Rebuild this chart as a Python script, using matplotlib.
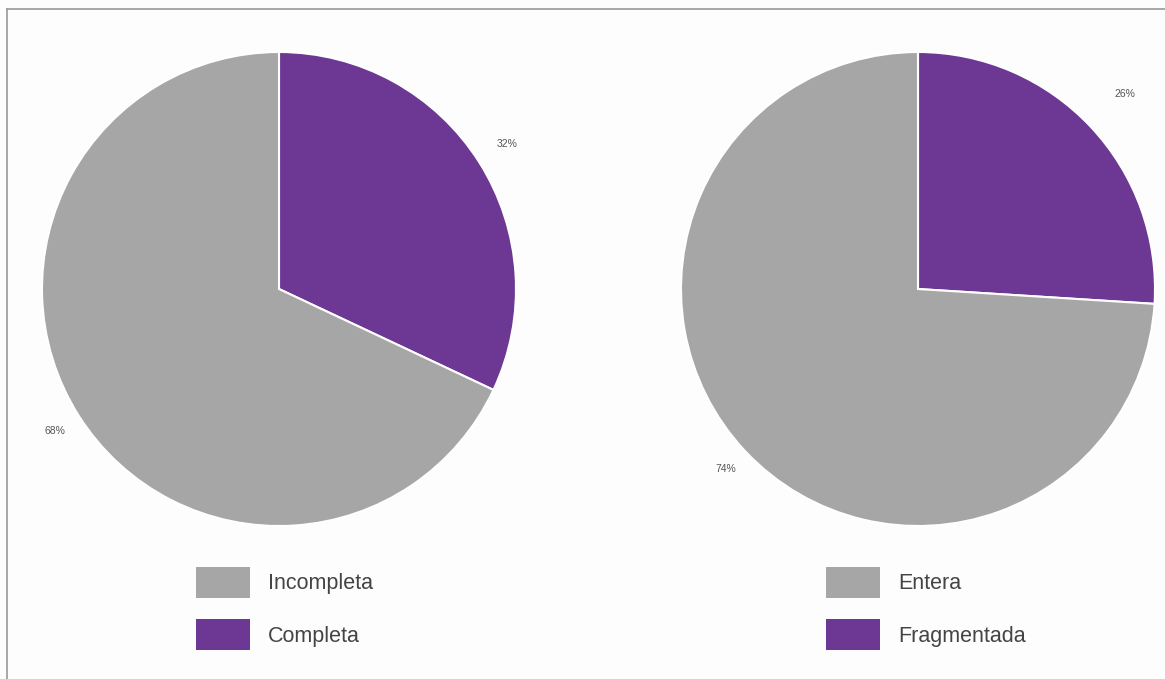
import matplotlib.pyplot as plt
from matplotlib.lines import Line2D

# two pie charts: state of the piece
left_labels = ['Incompleta', 'Completa']
left_values = [68, 32]
right_labels = ['Entera', 'Fragmentada']
right_values = [74, 26]

colors = ['#a6a6a6', '#6d3894']
text_color = '#444444'
font = ['Liberation Sans Narrow', 'Liberation Sans', 'DejaVu Sans']

W, H = 1165, 679
fig = plt.figure(figsize=(W / 100, H / 100), dpi=100, facecolor='#fdfdfd')


def px_axes(x0, y0, w, h):
    # axes placed by pixel box (top-left origin)
    return fig.add_axes([x0 / W, 1 - (y0 + h) / H, w / W, h / H])


def draw_pie(ax, values, labels, legend_xy, pct_dist):
    wedges, _, autotexts = ax.pie(
        [values[1], values[0]], startangle=90, counterclock=False,
        colors=[colors[1], colors[0]], radius=1,
        wedgeprops=dict(edgecolor='white', linewidth=1.5),
        autopct='%d%%', pctdistance=1.0,
        textprops=dict(fontsize=7.5, color='#555555', family=font))
    # push each percentage out by its own distance
    for t, d in zip(autotexts, pct_dist):
        x, y = t.get_position()
        t.set_position((x * d, y * d))
    ax.set_xlim(-1, 1)
    ax.set_ylim(-1, 1)
    ax.set_aspect('equal')
    ax.axis('off')
    leg = ax.legend([wedges[1], wedges[0]], labels, loc='upper left',
                    bbox_to_anchor=(legend_xy[0] / W, 1 - legend_xy[1] / H),
                    bbox_transform=fig.transFigure, frameon=False,
                    handlelength=2.5, handleheight=1.84, handletextpad=0.84,
                    labelspacing=0.98, borderpad=0, borderaxespad=0,
                    prop=dict(family=font, size=15.5))
    for t in leg.get_texts():
        t.set_color(text_color)
    for h in leg.legend_handles:
        h.set_edgecolor('none')
    return autotexts


ax1 = px_axes(42, 52, 474, 474)
draw_pie(ax1, left_values, left_labels, (196, 567), [1.14, 1.12])

ax2 = px_axes(681, 52, 474, 474)
draw_pie(ax2, right_values, right_labels, (826, 567), [1.2, 1.11])

# thin frame on the left and top edges
fig.add_artist(Line2D([7 / W, 7 / W], [0, 1 - 9 / H], color='#999999', lw=1.2))
fig.add_artist(Line2D([7 / W, 1], [1 - 9 / H, 1 - 9 / H], color='#999999', lw=1.2))

fig.savefig('out.png', dpi=100, facecolor=fig.get_facecolor())
